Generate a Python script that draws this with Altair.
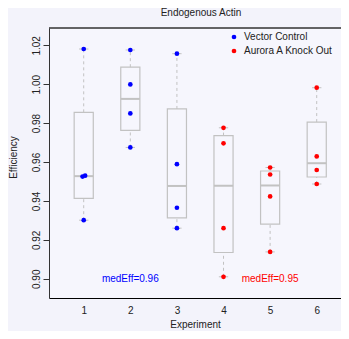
import math
import altair as alt
import pandas as pd

# ---------------- data ----------------
experiments = [1, 2, 3, 4, 5, 6]
group_of_exp = ["Vector Control", "Vector Control", "Vector Control",
                "Aurora A Knock Out", "Aurora A Knock Out", "Aurora A Knock Out"]
group_names = ["Vector Control", "Aurora A Knock Out"]
group_colors = ["blue", "red"]

eff_exp1 = [1.0181, 0.9525, 0.9530, 0.9301]
eff_exp2 = [1.0176, 0.9999, 0.9850, 0.9675]
eff_exp3 = [1.0157, 0.9589, 0.9365, 0.9260]
eff_exp4 = [0.9776, 0.9696, 0.9260, 0.9010]
eff_exp5 = [0.9572, 0.9536, 0.9423, 0.9138]
eff_exp6 = [0.9982, 0.9629, 0.9559, 0.9487]

# small horizontal jitter of the dots (only visible in experiment 1)
jit_exp1 = [0.0, -0.025, 0.03, 0.0]
jit_other = [0.0, 0.0, 0.0, 0.0]

label_texts = ["medEff=0.96", "medEff=0.95"]
label_x = [2, 5]
label_y = [0.90, 0.90]

y_ticks = [0.90, 0.92, 0.94, 0.96, 0.98, 1.00, 1.02]

# ---------------- tables ----------------
all_eff = [eff_exp1, eff_exp2, eff_exp3, eff_exp4, eff_exp5, eff_exp6]
all_jit = [jit_exp1, jit_other, jit_other, jit_other, jit_other, jit_other]

pts = []
for e, g, vals, jits in zip(experiments, group_of_exp, all_eff, all_jit):
    for v, j in zip(vals, jits):
        pts.append({"exp": e, "xp": e + j, "eff": v, "group": g})
pts_df = pd.DataFrame(pts)


def fivenum(values):
    x = sorted(values)
    n = len(x)
    n4 = math.floor((n + 3) / 2) / 2
    d = [1, n4, (n + 1) / 2, n + 1 - n4, n]
    return [0.5 * (x[math.floor(di - 1)] + x[math.ceil(di - 1)]) for di in d]


box_rows = []
for e, g, vals in zip(experiments, group_of_exp, all_eff):
    lo, q1, med, q3, hi = fivenum(vals)
    box_rows.append({"exp": e, "group": g, "lo": lo, "q1": q1,
                     "med": med, "q3": q3, "hi": hi})
box_df = pd.DataFrame(box_rows)

lab_df = pd.DataFrame({"lx": label_x, "ly": label_y, "label": label_texts,
                       "col": group_colors})

# ---------------- scales & axes ----------------
W, H = 292, 270
FONT = "Liberation Sans"
GREY = "#c2c2c2"
PX_PER_EXP = 46.6

xs = alt.Scale(domain=[0.255, 0.255 + W / PX_PER_EXP], nice=False, zero=False)
ys = alt.Scale(domain=[0.8901, 1.0289], nice=False, zero=False)

x_axis = alt.Axis(values=experiments, format="d", title="Experiment",
                  grid=False, ticks=False, labelPadding=7,
                  labelFontSize=10, titleFontSize=10, titleFontWeight="normal",
                  titlePadding=4, domainColor="#000000", labelColor="#222222",
                  titleColor="#222222", labelFont=FONT, titleFont=FONT)
y_axis = alt.Axis(values=y_ticks, format=".2f", title="Efficiency",
                  grid=False, tickSize=6, tickColor="#333333",
                  labelAngle=270, labelAlign="center", labelBaseline="alphabetic",
                  labelPadding=4, labelFontSize=10, titleFontSize=10,
                  titleFontWeight="normal", domainColor="#333333",
                  labelColor="#222222", titleColor="#222222",
                  titleAngle=270, titleAlign="center", titleBaseline="middle",
                  titleX=-36, titleY=H / 2 - 6, labelFont=FONT, titleFont=FONT)


def X(f):
    return alt.X(f, type="quantitative", scale=xs, axis=x_axis)


def Y(f):
    return alt.Y(f, type="quantitative", scale=ys, axis=y_axis)


box_base = alt.Chart(box_df).transform_calculate(
    xl="datum.exp - 0.205", xr="datum.exp + 0.205",
    sl="datum.exp - 0.1", sr="datum.exp + 0.1")

whisk_lo = box_base.mark_rule(color=GREY, strokeWidth=1, strokeDash=[3, 3]).encode(
    x=X("exp"), y=Y("lo"), y2="q1:Q")
whisk_hi = box_base.mark_rule(color=GREY, strokeWidth=1, strokeDash=[3, 3]).encode(
    x=X("exp"), y=Y("q3"), y2="hi:Q")
staple_lo = box_base.mark_rule(color=GREY, strokeWidth=1).encode(
    x=X("sl"), x2="sr:Q", y=Y("lo"))
staple_hi = box_base.mark_rule(color=GREY, strokeWidth=1).encode(
    x=X("sl"), x2="sr:Q", y=Y("hi"))
boxes = box_base.mark_rect(fillOpacity=0, stroke=GREY, strokeWidth=1.2).encode(
    x=X("xl"), x2="xr:Q", y=Y("q1"), y2="q3:Q")
medians = box_base.mark_rule(color=GREY, strokeWidth=2).encode(
    x=X("xl"), x2="xr:Q", y=Y("med"))

points = alt.Chart(pts_df).mark_circle(size=22, opacity=1).encode(
    x=X("xp"), y=Y("eff"),
    color=alt.Color("group:N",
                    scale=alt.Scale(domain=group_names, range=group_colors),
                    legend=alt.Legend(title=None, orient="none", legendX=180,
                                      legendY=4, direction="vertical",
                                      symbolType="circle", symbolSize=22,
                                      labelFontSize=10, labelFont=FONT,
                                      labelColor="#222222", labelOffset=5,
                                      rowPadding=4, padding=0)))

labels = alt.Chart(lab_df).mark_text(fontSize=10, font=FONT).encode(
    x=X("lx"), y=Y("ly"), text="label:N",
    color=alt.Color("col:N", scale=None, legend=None))

top_line = alt.Chart(lab_df).mark_rule(color="#333333", strokeWidth=1).encode(
    x=alt.value(0), x2=alt.value(W), y=alt.value(0))

chart = alt.layer(
    whisk_lo, whisk_hi, staple_lo, staple_hi, boxes, medians, points, labels, top_line
).properties(
    width=W, height=H,
    title=alt.TitleParams("Endogenous Actin", fontSize=10, fontWeight="normal",
                          font=FONT, color="#222222", anchor="middle",
                          offset=10, dx=6),
    padding={"left": 41, "top": 20, "right": 0, "bottom": 33},
    autosize=alt.AutoSizeParams(type="none"),
    background="#f3f3fb",
).configure_view(fill="#f6f6fd", stroke="transparent")

chart.save("out.html", embed_options={"renderer": "svg", "actions": False})
